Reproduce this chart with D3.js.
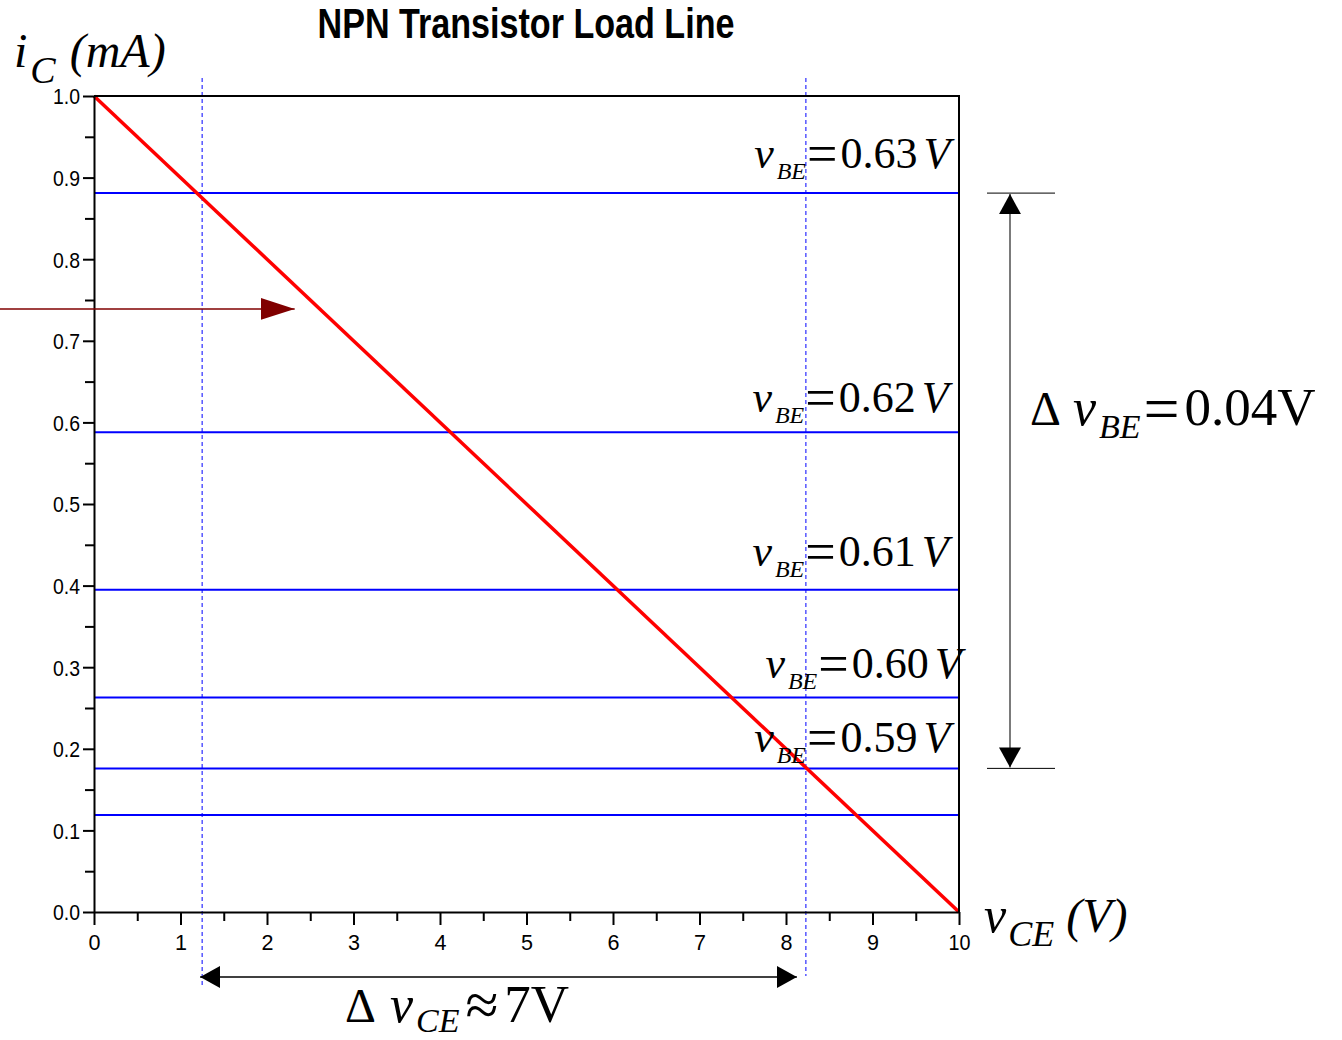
<!DOCTYPE html>
<html><head><meta charset="utf-8">
<script src="https://cdn.jsdelivr.net/npm/d3@7"></script>
<style>body{margin:0;background:#fff}</style>
</head><body>
<svg id="c" width="1342" height="1040"></svg>
<script>
// ---- data ----
const title = "NPN Transistor Load Line";
const xTicks = [0,1,2,3,4,5,6,7,8,9,10];
const yTicks = [0,0.1,0.2,0.3,0.4,0.5,0.6,0.7,0.8,0.9,1.0];
const loadLineV = [0, 10];        // vCE (V)
const loadLineI = [1.0, 0.0];     // iC (mA)
const biasCurrents = [0.881, 0.588, 0.395, 0.263, 0.176, 0.119]; // iC for vBE levels
const biasLabels = ["0.63", "0.62", "0.61", "0.60", "0.59"];
const biasLabelY = [0.912, 0.613, 0.424, 0.287, 0.196];
const biasLabelX = [9.9, 9.88, 9.88, 10.03, 9.9];
const swingV = [1.25, 8.23];      // vCE swing markers
const qArrowI = 0.739;            // Q-point input arrow level
const qArrowX = [-1.09, 2.32];

// ---- layout ----
const svg = d3.select("#c");
const x = d3.scaleLinear().domain([0,10]).range([94,959]);
const y = d3.scaleLinear().domain([0,1]).range([912,96]);
const serif = "'Liberation Serif','Times New Roman',serif";
const sans = "'Liberation Sans',Arial,sans-serif";

// defs: arrowheads
const defs = svg.append("defs");
function marker(id, color, w, h){
  defs.append("marker").attr("id",id).attr("viewBox",`0 0 ${w} ${h}`)
    .attr("refX",w).attr("refY",h/2).attr("markerWidth",w).attr("markerHeight",h)
    .attr("markerUnits","userSpaceOnUse").attr("orient","auto-start-reverse")
    .append("path").attr("d",`M0,0L${w},${h/2}L0,${h}Z`).attr("fill",color);
}
marker("ab","#000",20,22);
marker("ar","#800000",34,22);

// bias lines
svg.append("g").selectAll("line").data(biasCurrents).join("line")
  .attr("x1",x(0)).attr("x2",x(10)).attr("y1",d=>y(d)).attr("y2",d=>y(d))
  .attr("stroke","#0000ff").attr("stroke-width",2);

// swing dashed verticals
svg.append("g").selectAll("line").data(swingV).join("line")
  .attr("x1",d=>x(d)).attr("x2",d=>x(d)).attr("y1",78).attr("y2",(d,i)=>i?976:986)
  .attr("stroke","#0000ff").attr("stroke-width",1).attr("stroke-dasharray","4,3");

// load line
const pts = loadLineV.map((v,i)=>[v,loadLineI[i]]);
svg.append("path").datum(pts)
  .attr("d",d3.line().x(d=>x(d[0])).y(d=>y(d[1])))
  .attr("fill","none").attr("stroke","#ff0000").attr("stroke-width",3.5);

// axes
const yAx = svg.append("g").attr("transform",`translate(${x(0)},0)`)
  .call(d3.axisLeft(y).tickValues(yTicks).tickFormat(d3.format(".1f")).tickSize(11).tickSizeOuter(0));
svg.append("g").attr("transform",`translate(${x(0)},0)`)
  .call(d3.axisLeft(y).tickValues(yTicks.slice(0,-1).map(d=>d+0.05)).tickFormat("").tickSize(9).tickSizeOuter(0))
  .select(".domain").remove();
const xAx = svg.append("g").attr("transform",`translate(0,${y(0)})`)
  .call(d3.axisBottom(x).tickValues(xTicks).tickFormat(d3.format("d")).tickSize(13).tickSizeOuter(0));
svg.append("g").attr("transform",`translate(0,${y(0)})`)
  .call(d3.axisBottom(x).tickValues(xTicks.slice(0,-1).map(d=>d+0.5)).tickFormat("").tickSize(9).tickSizeOuter(0))
  .select(".domain").remove();
svg.selectAll(".domain, .tick line").attr("stroke","#000").attr("stroke-width",2);
yAx.selectAll("text").attr("font-family",sans).attr("font-size",22).attr("fill","#000")
  .attr("x",-14).attr("dy","0.36em")
  .attr("textLength",27).attr("lengthAdjust","spacingAndGlyphs");
xAx.selectAll("text").attr("font-family",sans).attr("font-size",22).attr("fill","#000").attr("y",22)
  .each(function(d){ d3.select(this).attr("textLength", d>=10?22:12).attr("lengthAdjust","spacingAndGlyphs"); });

// frame top/right
svg.append("path").attr("d",`M${x(0)},${y(1)}H${x(10)}V${y(0)}`)
  .attr("fill","none").attr("stroke","#000").attr("stroke-width",2);

// title
svg.append("text").attr("x",526).attr("y",38).attr("text-anchor","middle")
  .attr("font-family",sans).attr("font-weight","bold").attr("font-size",42)
  .attr("textLength",417).attr("lengthAdjust","spacingAndGlyphs").text(title);

// math text helper
function mtext(px, py, parts, anchor){
  const t = svg.append("text").attr("x",px).attr("y",py).attr("font-family",serif)
    .attr("text-anchor",anchor||"start").attr("fill","#000");
  let shift = 0;
  parts.forEach(p=>{
    const s = t.append("tspan").attr("font-size",p.s).text(p.t);
    if(p.i) s.attr("font-style","italic");
    const dyv = (p.sub||0) - shift; shift = p.sub||0;
    if(dyv) s.attr("dy",dyv);
    if(p.dx) s.attr("dx",p.dx);
  });
  return t;
}

// bias labels
biasLabels.forEach((lab,i)=>{
  mtext(x(biasLabelX[i]), y(biasLabelY[i]), [
    {t:"v",s:44,i:1},{t:"BE",s:24,i:1,sub:11,dx:3},
    {t:"=",s:54,dx:1,sub:4},{t:lab,s:44,dx:3},{t:"V",s:44,i:1,dx:6}
  ],"end");
});

// axis titles
mtext(14, 67, [{t:"i",s:48,i:1},{t:"C",s:38,i:1,sub:16,dx:3},{t:"(mA)",s:48,i:1,dx:14}]);
mtext(984, 932, [{t:"v",s:50,i:1},{t:"CE",s:36,i:1,sub:14,dx:2},{t:"(V)",s:48,i:1,dx:12}]);

// Q-point arrow (dark red)
svg.append("line").attr("x1",x(qArrowX[0])).attr("x2",x(qArrowX[1]))
  .attr("y1",y(qArrowI)).attr("y2",y(qArrowI))
  .attr("stroke","#800000").attr("stroke-width",1.3).attr("marker-end","url(#ar)");

// delta vBE double arrow
const yTop = y(biasCurrents[0]), yBot = y(biasCurrents[4]);
svg.append("line").attr("x1",987).attr("x2",1055).attr("y1",yTop).attr("y2",yTop).attr("stroke","#000").attr("stroke-width",1);
svg.append("line").attr("x1",987).attr("x2",1055).attr("y1",yBot).attr("y2",yBot).attr("stroke","#000").attr("stroke-width",1);
svg.append("line").attr("x1",1010).attr("x2",1010).attr("y1",yTop+1).attr("y2",yBot-1)
  .attr("stroke","#333").attr("stroke-width",1.3)
  .attr("marker-start","url(#ab)").attr("marker-end","url(#ab)");
mtext(1030, 425, [{t:"Δ",s:48},{t:"v",s:52,i:1,dx:12},{t:"BE",s:34,i:1,sub:13,dx:3},{t:"=",s:64,dx:3,sub:5},{t:"0.04V",s:53,dx:5}]);

// delta vCE double arrow
svg.append("line").attr("x1",x(swingV[0])-2).attr("x2",x(swingV[1])-9).attr("y1",977).attr("y2",977)
  .attr("stroke","#000").attr("stroke-width",1.5)
  .attr("marker-start","url(#ab)").attr("marker-end","url(#ab)");
mtext(345, 1022, [{t:"Δ",s:48},{t:"v",s:52,i:1,dx:14},{t:"CE",s:34,i:1,sub:10,dx:3},{t:"≈",s:60,dx:6,sub:3},{t:"7V",s:53,dx:6}]);
</script>
</body></html>
